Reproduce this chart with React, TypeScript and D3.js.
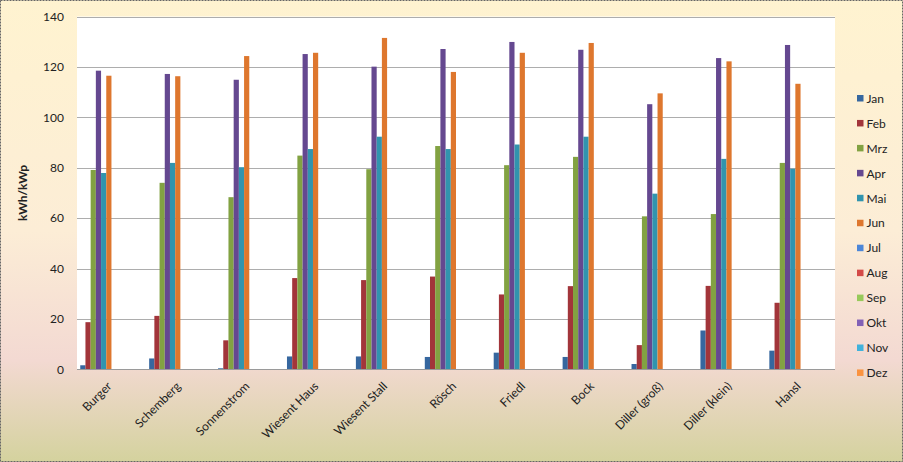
import React from "react";
import * as d3 from "d3";

const categories = ["Burger", "Schemberg", "Sonnenstrom", "Wiesent Haus", "Wiesent Stall", "Rösch", "Friedl", "Bock", "Diller (groß)", "Diller (klein)", "Hansl"];
const months = ["Jan", "Feb", "Mrz", "Apr", "Mai", "Jun", "Jul", "Aug", "Sep", "Okt", "Nov", "Dez"];
const jan = [1.6, 4.3, 0.4, 5.1, 5.1, 4.9, 6.6, 4.9, 2.1, 15.4, 7.4];
const feb = [18.7, 21.2, 11.5, 36.2, 35.4, 36.8, 29.7, 33.0, 9.6, 33.1, 26.4];
const mrz = [79.1, 74.0, 68.3, 84.8, 79.4, 88.6, 81.0, 84.3, 60.7, 61.6, 81.9];
const apr = [118.5, 117.2, 114.9, 125.1, 120.1, 127.1, 129.9, 126.8, 105.2, 123.5, 128.7];
const mai = [77.9, 81.9, 80.2, 87.4, 92.3, 87.4, 89.2, 92.3, 69.7, 83.5, 79.6];
const jun = [116.5, 116.3, 124.3, 125.6, 131.5, 118.0, 125.6, 129.5, 109.5, 122.2, 113.3];
const empty: (number | null)[] = categories.map(() => null);
const seriesValues: (number | null)[][] = [jan, feb, mrz, apr, mai, jun, empty, empty, empty, empty, empty, empty];
const yTicks = [0, 20, 40, 60, 80, 100, 120, 140];
const colors = ["#36679F", "#A2353A", "#82A242", "#654890", "#3194AE", "#DE772E", "#4C86D8", "#D44A48", "#97C95A", "#8160B6", "#41B2DC", "#FA9340"];

const W = 903, H = 462;
const plot = { left: 77, right: 835, top: 16.5, bottom: 369.3 };
const FONT = "Lato, 'Open Sans', sans-serif";

export default function App() {
  const x = d3.scaleBand<string>().domain(categories).range([plot.left, plot.right]).paddingInner(0).paddingOuter(0);
  const xi = d3.scaleBand<string>().domain(months).range([0, x.bandwidth()]).paddingInner(0).paddingOuter(0.625);
  const y = d3.scaleLinear().domain([0, 140]).range([plot.bottom, plot.top]);

  return (
    <div style={{ position: "absolute", left: 0, top: 0 }}>
      <svg width={W} height={H} style={{ display: "block" }}>
        <defs>
          <linearGradient id="bg" x1="0" y1="0" x2="0" y2="1">
            <stop offset="0%" stopColor="#FFF3D0" />
            <stop offset="50%" stopColor="#FCEDD6" />
            <stop offset="78%" stopColor="#F3D9D2" />
            <stop offset="100%" stopColor="#D4D29E" />
          </linearGradient>
        </defs>
        <rect x={0} y={0} width={W} height={H} fill="url(#bg)" />
        <rect x={0.5} y={0.5} width={W - 1} height={H - 1} fill="none" stroke="#666" strokeDasharray="2,1" />
        <rect x={plot.left} y={plot.top} width={plot.right - plot.left} height={plot.bottom - plot.top} fill="#fff" />
        {yTicks.map((t) => (
          <g key={t}>
            <line x1={plot.left} x2={plot.right} y1={Math.round(y(t)) + 0.5} y2={Math.round(y(t)) + 0.5} stroke="#ADADAD" strokeWidth={1} />
            <text x={64} y={y(t)} dy="0.35em" textAnchor="end" fontFamily={FONT} fontSize={12} fill="#222">{t}</text>
          </g>
        ))}
        {seriesValues.map((vals, si) =>
          vals.map((v, ci) =>
            v == null ? null : (
              <rect
                key={`${si}-${ci}`}
                x={(x(categories[ci]) as number) + (xi(months[si]) as number)}
                y={y(v)}
                width={xi.bandwidth()}
                height={y(0) - y(v)}
                fill={colors[si]}
              />
            )
          )
        )}
        <line x1={plot.left} x2={plot.right} y1={369.5} y2={369.5} stroke="#9A9A9A" />
        <text transform={`translate(27,${(plot.top + plot.bottom) / 2}) rotate(-90)`} textAnchor="middle" fontFamily={FONT} fontSize={12} fontWeight="bold" fill="#222">kWh/kWp</text>
        {categories.map((c) => {
          const cx = (x(c) as number) + x.bandwidth() / 2;
          return (
            <text key={c} transform={`translate(${cx + 1},387) rotate(-45)`} textAnchor="end" fontFamily={FONT} fontSize={12} fill="#222">{c}</text>
          );
        })}
        {months.map((m, i) => {
          const ly = 98.5 + i * 24.95;
          return (
            <g key={m}>
              <rect x={857} y={ly - 3.5} width={6.5} height={6.5} fill={colors[i]} />
              <text x={866.5} y={ly} dy="0.35em" fontFamily={FONT} fontSize={12} fill="#222">{m}</text>
            </g>
          );
        })}
      </svg>
    </div>
  );
}
